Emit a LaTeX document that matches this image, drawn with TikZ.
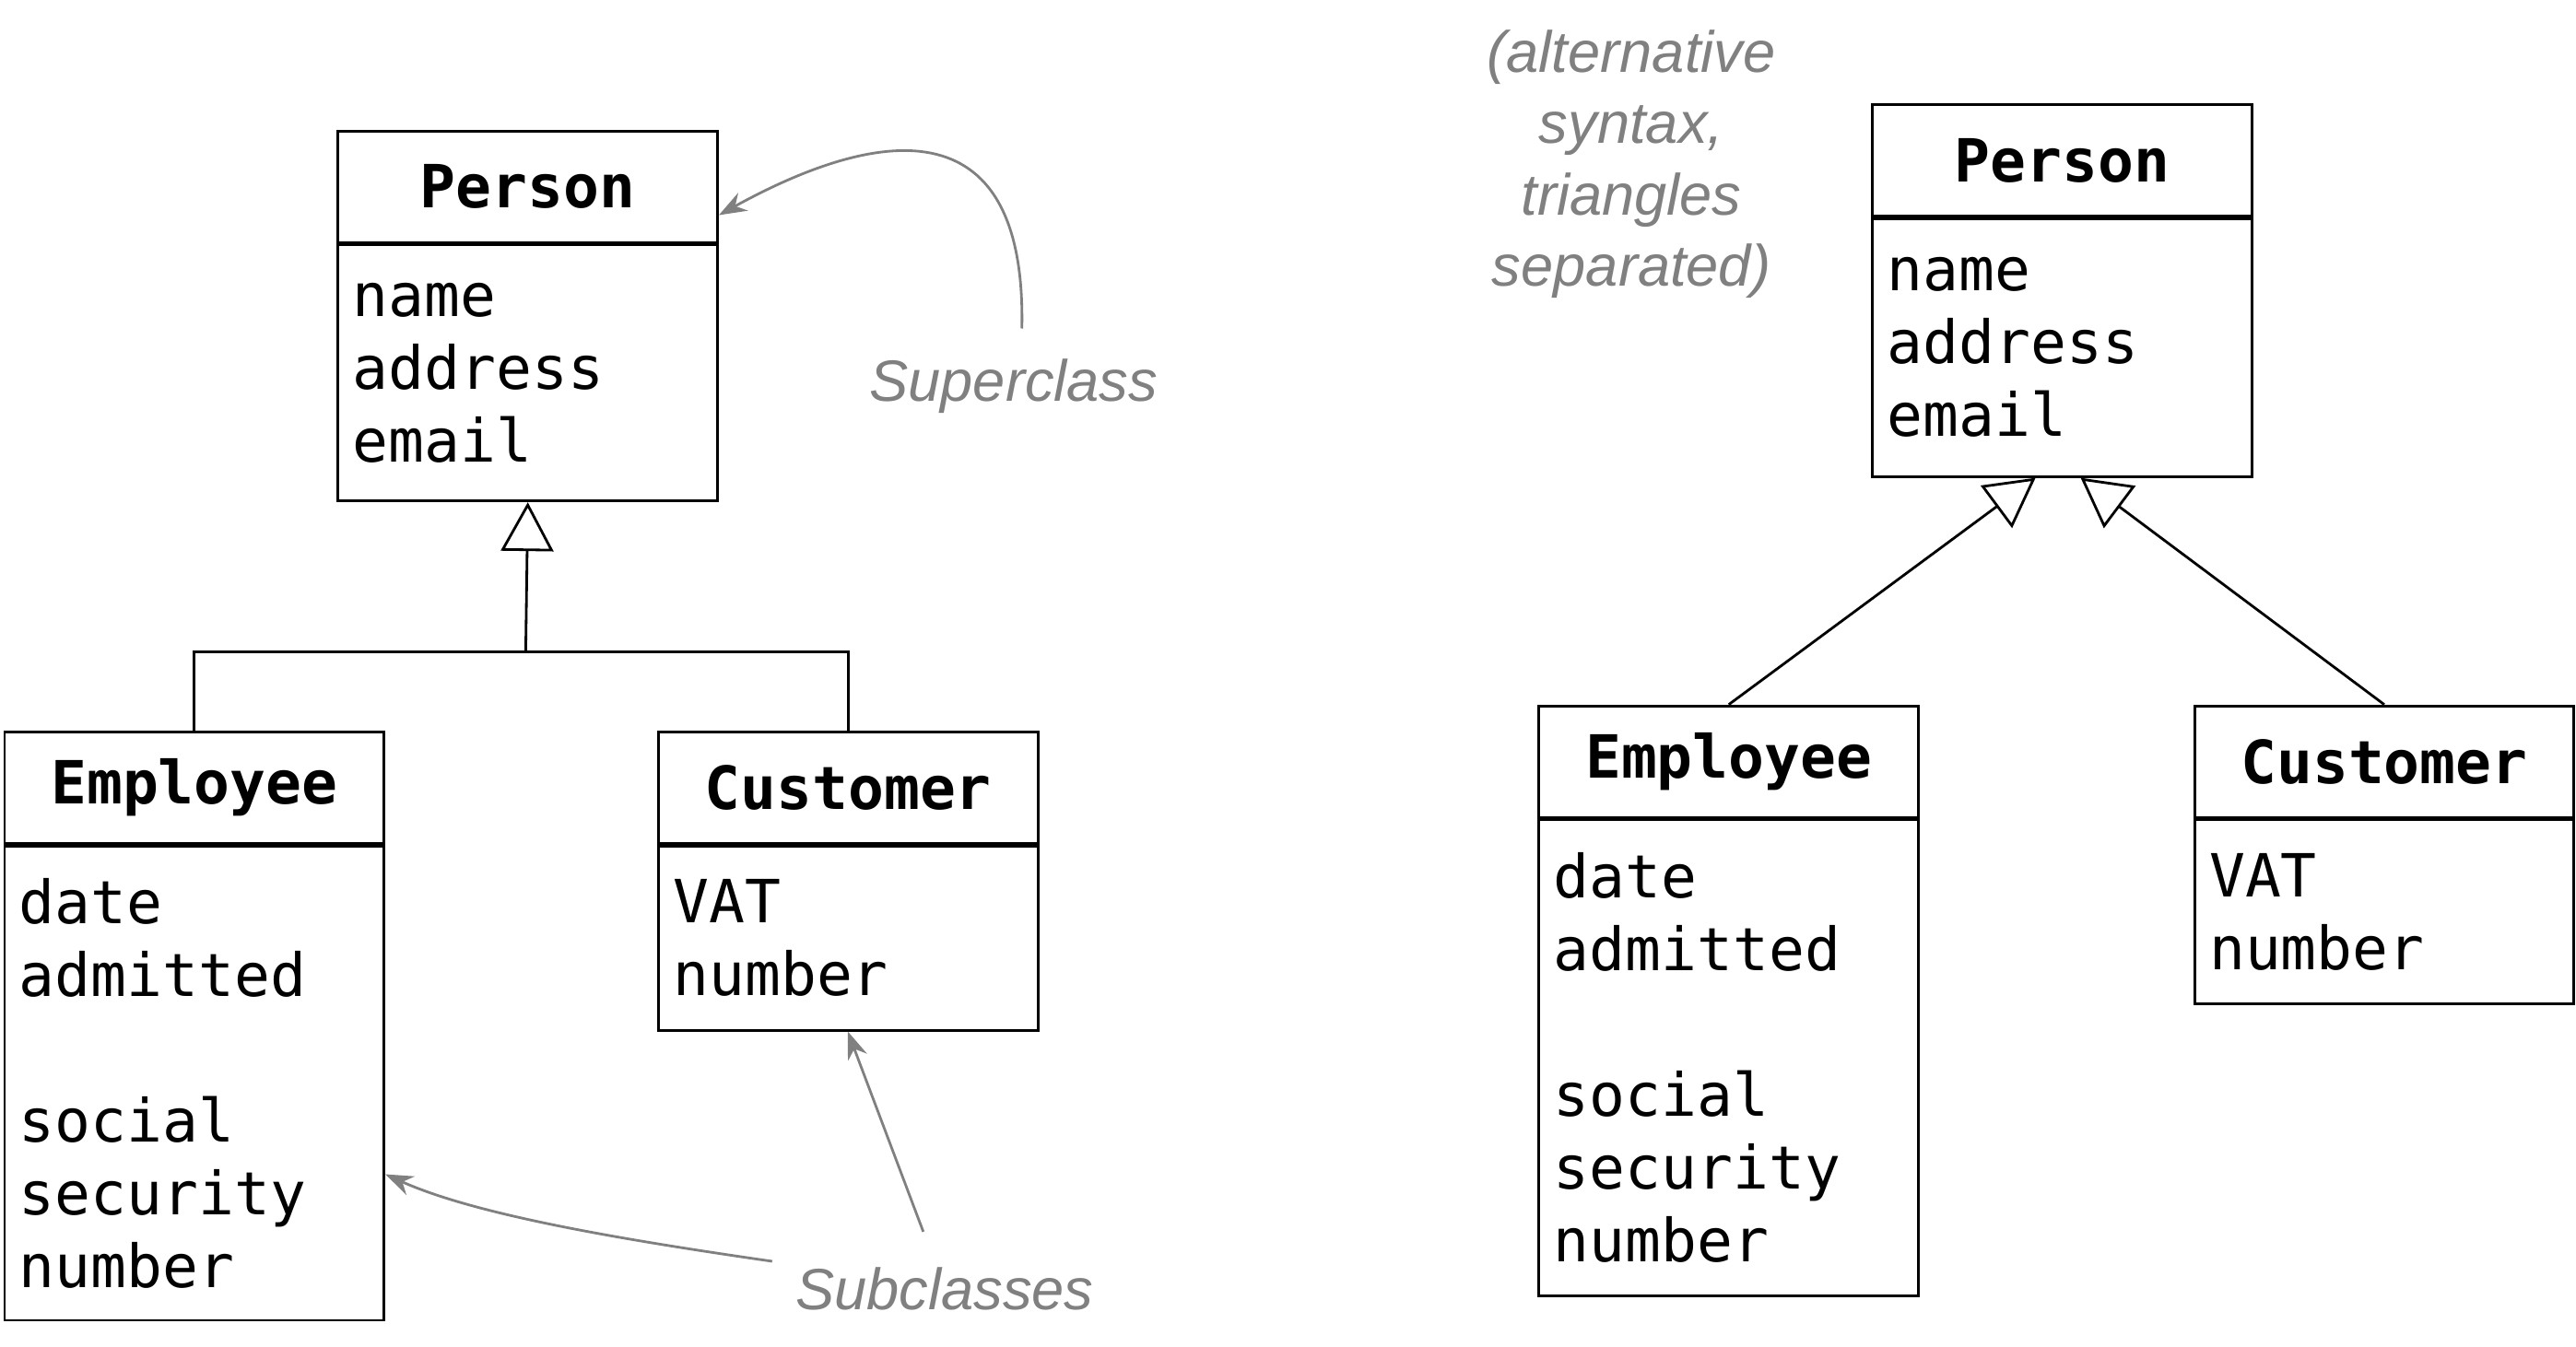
\documentclass[tikz,border=0pt]{standalone}
\usepackage{fontspec}
\setmainfont{Liberation Sans}
\setmonofont{DejaVu Sans Mono}
\usetikzlibrary{arrows.meta, positioning}
\definecolor{notegray}{rgb}{0.5,0.5,0.5}

\begin{document}
\begin{tikzpicture}[x=0.01783cm, y=-0.01783cm,
    head/.style={rectangle, draw, thick, minimum width=4.12cm, minimum height=1.21cm, inner sep=0pt, font=\fontsize{18.4}{22}\ttfamily\bfseries},
    attr/.style={rectangle, draw, thick, minimum width=4.12cm, text width=3.8cm, align=left, inner sep=0pt, font=\fontsize{18.4}{22.5}\ttfamily, anchor=north},
    inherit/.style={-{Triangle[open, length=0.53cm, width=0.57cm]}, thick},
    note/.style={font=\fontsize{18}{22}\selectfont\itshape, text=notegray, align=center},
    pointer/.style={-{Stealth[length=0.3cm, width=0.22cm]}, notegray, thick}
]
\useasboundingbox (0,0) rectangle (1568,820);

% left: shared triangle
\node[head, anchor=north west] (person) at (205,79) {Person};
\node[attr, minimum height=2.78cm] (personAttr) at (person.south) {name\\address\\email};
\node[head, anchor=north west] (employee) at (2,445) {Employee};
\node[attr, minimum height=5.15cm] (employeeAttr) at (employee.south) {date\\admitted\\[22.5pt]social\\security\\number};
\node[head, anchor=north west] (customer) at (400,445) {Customer};
\node[attr, minimum height=2.0cm] (customerAttr) at (customer.south) {VAT\\number};

\coordinate (join) at (320,397);
\draw[thick] (employee.north) |- (join) -| (customer.north);
\draw[inherit] (join) -- (personAttr.south);

\node[note] (superNote) at (617,235) {Superclass};
\node[note] (subNote) at (575,785) {Subclasses};
\coordinate (superStart) at (622,200);
\coordinate (subStartA) at (470,768);
\coordinate (subStartB) at (562,750);
\draw[pointer] (superStart) .. controls (625,60) and (530,80) .. (person.south east |- 0,131);
\draw[pointer] (subStartA) .. controls (380,755) and (290,740) .. (employeeAttr.east |- 0,715);
\draw[pointer] (subStartB) -- (516,628);

% right: separate triangles
\node[note] (altNote) at (993,100) {(alternative\\syntax,\\triangles\\separated)};
\node[head, anchor=north west] (person2) at (1139,63) {Person};
\node[attr, minimum height=2.8cm] (person2Attr) at (person2.south) {name\\address\\email};
\node[head, anchor=north west] (employee2) at (936,429) {Employee};
\node[attr, minimum height=5.17cm] (employee2Attr) at (employee2.south) {date\\admitted\\[22.5pt]social\\security\\number};
\node[head, anchor=north west] (customer2) at (1335,429) {Customer};
\node[attr, minimum height=2.0cm] (customer2Attr) at (customer2.south) {VAT\\number};

\draw[inherit] (employee2.north) -- ([xshift=-0.29cm]person2Attr.south);
\draw[inherit] (customer2.north) -- ([xshift=0.2cm]person2Attr.south);

\end{tikzpicture}
\end{document}
